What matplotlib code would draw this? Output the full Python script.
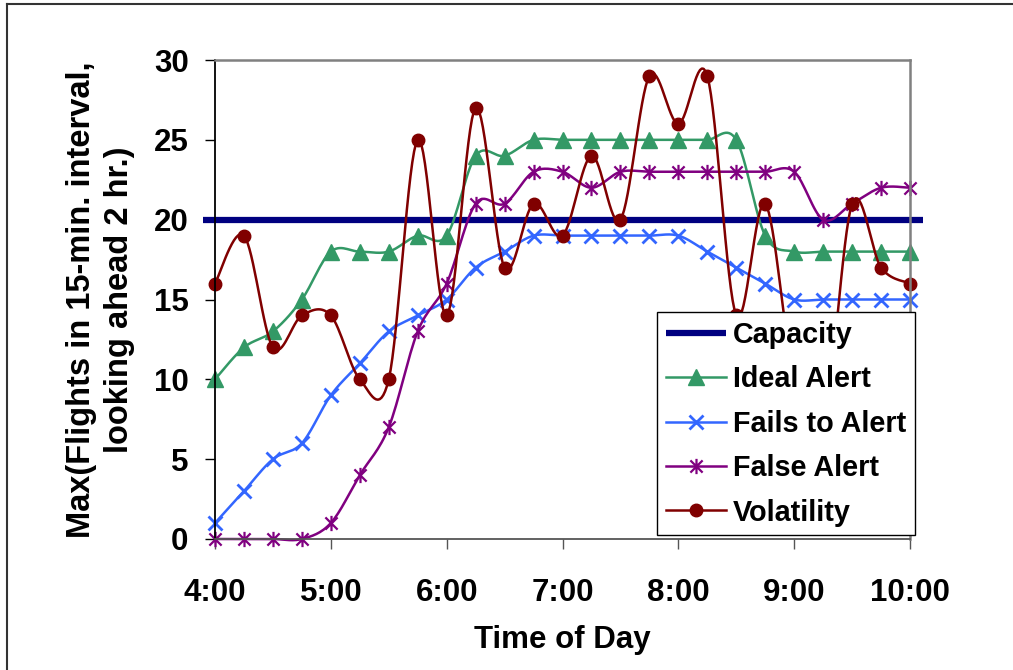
import numpy as np
import matplotlib
matplotlib.use("Agg")
from matplotlib import pyplot as plt
from matplotlib.path import Path

# time of day in hours, every 15 minutes from 4:00 to 10:00
times = [4 + i * 0.25 for i in range(25)]
hour_labels = ["4:00", "5:00", "6:00", "7:00", "8:00", "9:00", "10:00"]

capacity = 20
ideal_alert = [10, 12, 13, 15, 18, 18, 18, 19, 19, 24, 24, 25, 25,
               25, 25, 25, 25, 25, 25, 19, 18, 18, 18, 18, 18]
fails_to_alert = [1, 3, 5, 6, 9, 11, 13, 14, 15, 17, 18, 19, 19,
                  19, 19, 19, 19, 18, 17, 16, 15, 15, 15, 15, 15]
false_alert = [0, 0, 0, 0, 1, 4, 7, 13, 16, 21, 21, 23, 23,
               22, 23, 23, 23, 23, 23, 23, 23, 20, 21, 22, 22]
volatility = [16, 19, 12, 14, 14, 10, 10, 25, 14, 27, 17, 21, 19,
              24, 20, 29, 26, 29, 14, 21, 10, 7, 21, 17, 16]

plt.rcParams['font.family'] = ['Liberation Sans', 'DejaVu Sans']
plt.rcParams['font.weight'] = 'bold'
FS = 22.5     # tick labels and axis titles
FS_Y = 23.5   # y axis title
FS_LEG = 20.7

N = 16  # samples per segment for the smoothed (Excel style) lines


def smooth(x, y):
    # catmull-rom curve through the points, like Excel's "smoothed line"
    x = np.asarray(x, float)
    y = np.asarray(y, float)
    xs, ys = [], []
    n = len(x)
    for i in range(n - 1):
        p0 = max(i - 1, 0)
        p3 = min(i + 2, n - 1)
        mx0 = (x[i + 1] - x[p0]) / 2
        my0 = (y[i + 1] - y[p0]) / 2
        mx1 = (x[p3] - x[i]) / 2
        my1 = (y[p3] - y[i]) / 2
        t = np.linspace(0, 1, N, endpoint=False)
        h00 = 2 * t**3 - 3 * t**2 + 1
        h10 = t**3 - 2 * t**2 + t
        h01 = -2 * t**3 + 3 * t**2
        h11 = t**3 - t**2
        xs.extend(h00 * x[i] + h10 * mx0 + h01 * x[i + 1] + h11 * mx1)
        ys.extend(h00 * y[i] + h10 * my0 + h01 * y[i + 1] + h11 * my1)
    xs.append(x[-1])
    ys.append(y[-1])
    return np.array(xs), np.array(ys)


# Excel "star" marker: an X with a vertical bar
star = Path([(-1, -1), (1, 1), (-1, 1), (1, -1), (0, -1.25), (0, 1.25)],
            [Path.MOVETO, Path.LINETO, Path.MOVETO, Path.LINETO,
             Path.MOVETO, Path.LINETO])

fig = plt.figure(figsize=(10.13, 6.70), dpi=100)
ax = fig.add_axes([215 / 1013, 131 / 670, 695 / 1013, 479 / 670])

ax.axhline(capacity, xmin=-0.017, xmax=1.019, color="#000080", lw=4.5,
           clip_on=False, label="Capacity", solid_capstyle='butt')

series = [
    (ideal_alert, "Ideal Alert", "#339966", dict(marker='^', ms=11)),
    (fails_to_alert, "Fails to Alert", "#3366FF", dict(marker='x', ms=10, mew=2)),
    (false_alert, "False Alert", "#800080", dict(marker=star, ms=11, mew=1.6)),
    (volatility, "Volatility", "#800000", dict(marker='o', ms=9)),
]
for vals, name, col, mk in series:
    sx, sy = smooth(times, vals)
    ax.plot(sx, sy, color=col, lw=1.8, markevery=N, label=name,
            clip_on=False, **mk)

ax.set_xlim(4, 10)
ax.set_ylim(0, 30)
ax.set_xticks([4, 5, 6, 7, 8, 9, 10])
ax.set_xticklabels(hour_labels)
ax.set_yticks([0, 5, 10, 15, 20, 25, 30])
ax.tick_params(axis='y', direction='out', length=7, width=1, pad=12,
               labelsize=FS)
ax.tick_params(axis='x', direction='out', length=7, width=1, pad=21,
               labelsize=FS, color='#555555')
for lab in ax.get_xticklabels() + ax.get_yticklabels():
    lab.set_fontweight('bold')

ax.spines['top'].set_color('#808080')
ax.spines['right'].set_color('#808080')
ax.spines['top'].set_linewidth(1.8)
ax.spines['right'].set_linewidth(1.8)
ax.spines['left'].set_color('black')
ax.spines['left'].set_linewidth(1.3)
ax.spines['bottom'].set_color('#555555')
ax.spines['bottom'].set_linewidth(1.3)

ax.set_xlabel("Time of Day", fontsize=FS, fontweight='bold')
ax.xaxis.set_label_coords(0.5, -0.18)
ax.set_ylabel("Max(Flights in 15-min. interval,\nlooking ahead 2 hr.)",
              fontsize=FS_Y, fontweight='bold', linespacing=1.3)
ax.yaxis.set_label_coords(-0.115, 0.5)

leg = ax.legend(loc='lower left', bbox_to_anchor=(0.636, 0.008),
                fontsize=FS_LEG, frameon=True, fancybox=False,
                edgecolor='black', framealpha=1,
                handlelength=2.1, handletextpad=0.25, labelspacing=0.57,
                borderpad=0.3, borderaxespad=0)
leg.get_frame().set_linewidth(1.0)
leg.set_zorder(10)
for t in leg.get_texts():
    t.set_fontweight('bold')

# outer chart border (runs off the right and bottom of the image)
fig.add_artist(plt.Line2D([7 / 1013, 7 / 1013], [0, 1 - 4 / 670],
                          color='#333333', lw=1.5, transform=fig.transFigure))
fig.add_artist(plt.Line2D([7 / 1013, 1], [1 - 4 / 670, 1 - 4 / 670],
                          color='#333333', lw=1.5, transform=fig.transFigure))

fig.savefig("out.png", dpi=100)
